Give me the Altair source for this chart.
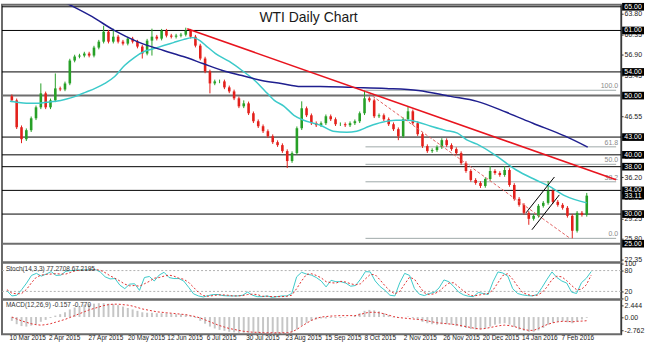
import altair as alt
import pandas as pd

# ------------------------------------------------------------------ data
title_text = "WTI Daily Chart"

# closing prices, one candle per two trading days
closes = [49.20, 44.66, 42.64, 44.16, 46.17, 48.02, 50.38, 48.02, 49.20, 51.22,
          51.05, 52.06, 55.92, 56.60, 56.76, 57.10, 56.76, 58.11, 59.11, 60.79,
          59.11, 59.95, 59.11, 58.78, 59.62, 59.11, 58.28, 57.10, 59.28, 59.95,
          59.62, 60.96, 60.13, 59.95, 60.13, 60.29, 60.96, 59.95, 58.44, 56.26,
          54.08, 52.06, 52.40, 52.40, 51.39, 50.71, 49.54, 48.19, 48.69, 47.02,
          45.67, 44.83, 43.99, 43.15, 42.14, 41.64, 40.63, 38.95, 40.29, 44.49,
          47.86, 46.68, 45.34, 45.00, 45.34, 46.51, 46.01, 45.17, 45.17, 45.00,
          45.34, 45.67, 47.02, 49.54, 49.20, 46.51, 46.68, 46.01, 45.17, 44.33,
          43.15, 46.01, 47.35, 45.34, 43.49, 41.47, 40.63, 40.80, 41.30, 42.48,
          41.64, 40.97, 40.29, 38.61, 37.27, 35.76, 35.25, 34.75, 35.92, 37.27,
          36.93, 36.60, 37.44, 34.91, 32.56, 31.55, 30.21, 29.20, 29.70, 31.39,
          31.89, 33.90, 32.06, 31.55, 31.05, 29.70, 27.18, 30.21, 29.87, 33.11]
first_open = 49.9
spike_high = {6: 52.06, 9: 53.74, 19: 61.8, 21: 61.3, 29: 61.3, 36: 61.47,
              48: 49.2, 60: 49.03, 73: 50.9, 82: 48.19, 89: 42.81, 99: 38.11,
              102: 38.11, 111: 35.59, 119: 33.57}
spike_low = {2: 41.97, 27: 56.26, 29: 56.76, 41: 50.38, 57: 37.77, 80: 42.48,
             97: 34.41, 107: 28.19, 116: 25.9}

cyan_ma_bar = [-0.40, 1.02, 3.04, 5.07, 7.10, 9.13, 11.15, 13.18, 15.21, 17.23,
               19.26, 21.29, 23.32, 25.34, 27.37, 29.40, 31.42, 33.45, 35.48, 37.51,
               38.93, 40.14, 42.17, 45.01, 47.64, 50.28, 52.30, 54.33, 56.36, 58.39,
               60.41, 62.44, 63.86, 66.49, 69.33, 71.36, 73.99, 76.63, 79.47, 82.10,
               84.13, 86.77, 89.61, 92.24, 94.27, 96.29, 100.35, 104.40, 108.46, 111.09,
               114.54, 118.99]
cyan_ma_val = [49.03, 48.86, 48.70, 48.70, 48.86, 49.03, 49.37, 49.87, 50.55, 51.22,
               52.06, 53.23, 55.08, 56.43, 57.44, 57.94, 58.45, 58.95, 59.45, 59.79,
               59.28, 58.45, 57.10, 55.76, 54.24, 52.56, 50.88, 49.20, 48.19, 46.68,
               45.84, 45.34, 45.00, 43.99, 43.82, 43.99, 44.83, 45.50, 45.84, 45.84,
               45.50, 44.83, 44.16, 43.66, 42.48, 41.81, 39.79, 37.44, 35.76, 34.75,
               33.07, 31.89]

blue_ma_bar = [7.1, 11.56, 16.63, 21.29, 25.95, 31.42, 35.48, 39.53, 43.59, 47.64,
               51.70, 55.75, 59.80, 63.86, 70.55, 77.44, 84.13, 90.82, 96.29, 102.37,
               107.85, 114.54, 119.20]
blue_ma_val = [67.35, 65.50, 63.32, 60.97, 59.12, 57.61, 56.60, 55.42, 54.24, 53.40,
               52.56, 52.06, 51.55, 51.55, 51.39, 51.22, 50.88, 49.87, 49.03, 47.18,
               45.34, 43.15, 41.30]

trend_bar = [36.3, 125.08]
trend_val = [61.3, 35.8]

fib_start_bar = 73.2
fib_end_bar = 125.08
fib_names = ["100.0", "61.8", "50.0", "38.2", "0.0"]
fib_vals = [50.9, 41.35, 38.4, 35.45, 25.9]
fib_diag_bar = [72.98, 115.55]
fib_diag_val = [50.9, 25.9]

channel_id = ["upper", "upper", "lower", "lower"]
channel_bar = [106.43, 112.31, 107.65, 113.32]
channel_val = [30.21, 36.26, 27.35, 33.24]

black_levels = [65, 61, 54, 43, 40, 38, 34, 30]
gray_levels = [50, 25]
box_vals = [33.11, 65, 61, 54, 50, 43, 40, 38, 34, 30, 25]

price_ticks = [22.35, 25.80, 29.25, 32.75, 36.20, 39.65, 43.10, 46.55,
               50.00, 53.45, 56.90, 60.35, 63.80]

date_labels = ["10 Mar 2015", "2 Apr 2015", "27 Apr 2015", "20 May 2015",
               "12 Jun 2015", "6 Jul 2015", "30 Jul 2015", "23 Aug 2015",
               "15 Sep 2015", "8 Oct 2015", "2 Nov 2015", "26 Nov 2015",
               "20 Dec 2015", "14 Jan 2016", "7 Feb 2016"]
date_pos = [-0.46, 7.70, 15.86, 24.02, 32.18, 40.34, 48.50, 56.66, 64.82,
            72.98, 81.14, 89.30, 97.46, 105.62, 113.78]

stoch_main = [22, 7, 9, 25, 44, 66, 72, 64, 70, 77,
              66, 67, 78, 80, 81, 82, 82, 83, 83, 76,
              62, 56, 57, 38, 28, 41, 42, 23, 60, 63,
              50, 67, 75, 60, 57, 57, 50, 32, 13, 7,
              4, 8, 11, 11, 8, 7, 7, 7, 9, 18,
              9, 5, 5, 7, 3, 5, 7, 7, 14, 62,
              75, 70, 67, 60, 50, 33, 52, 48, 48, 44,
              35, 37, 55, 77, 76, 50, 34, 23, 9, 7,
              45, 72, 66, 28, 12, 8, 14, 17, 30, 53,
              48, 34, 18, 10, 6, 5, 17, 14, 11, 48,
              76, 73, 64, 28, 14, 10, 8, 7, 11, 32,
              55, 76, 60, 50, 44, 18, 14, 45, 58, 77.27]
stoch_signal = [25, 15, 13, 14, 26, 45, 61, 67, 69, 70,
                71, 70, 70, 75, 80, 81, 82, 82, 83, 81,
                74, 65, 58, 50, 41, 36, 37, 35, 42, 49,
                58, 60, 64, 67, 64, 58, 55, 46, 32, 17,
                8, 6, 8, 10, 10, 9, 7, 7, 8, 11,
                12, 11, 6, 6, 5, 5, 5, 6, 9, 28,
                50, 69, 71, 66, 59, 48, 45, 44, 49, 47,
                42, 39, 42, 56, 69, 68, 53, 36, 22, 13,
                20, 41, 61, 55, 35, 16, 11, 13, 20, 33,
                44, 45, 33, 21, 11, 7, 9, 12, 14, 24,
                45, 66, 71, 55, 35, 17, 11, 8, 9, 17,
                33, 54, 64, 62, 51, 37, 25, 26, 39, 67.22]
stoch_levels = [20, 80]
stoch_ticks = [0, 20, 80, 100]

macd_hist = [-0.8, -1.5, -1.9, -2.0, -1.8, -1.5, -1.0, -0.6, -0.2, 0.3,
             0.6, 1.0, 1.6, 2.0, 2.3, 2.6, 2.7, 2.8, 2.9, 2.9,
             2.8, 2.7, 2.5, 2.2, 1.9, 1.6, 1.3, 1.0, 0.9, 0.9,
             0.8, 0.8, 0.8, 0.7, 0.6, 0.6, 0.5, 0.3, -0.2, -0.8,
             -1.4, -2.0, -2.4, -2.7, -2.9, -3.1, -3.2, -3.3, -3.3, -3.3,
             -3.3, -3.4, -3.4, -3.4, -3.5, -3.5, -3.5, -3.5, -3.2, -2.6,
             -1.8, -1.2, -0.8, -0.5, -0.3, -0.3, -0.2, -0.2, -0.2, -0.1,
             0.0, 0.3, 0.8, 1.3, 1.5, 1.4, 1.2, 0.8, 0.4, -0.1,
             -0.2, 0.0, 0.1, -0.2, -0.6, -1.0, -1.3, -1.5, -1.6, -1.5,
             -1.5, -1.6, -1.9, -2.1, -2.3, -2.5, -2.6, -2.6, -2.4, -2.0,
             -1.6, -1.4, -1.3, -1.6, -2.1, -2.6, -2.9, -3.1, -3.1, -2.8,
             -2.3, -1.6, -1.2, -1.0, -0.9, -1.1, -1.3, -0.9, -0.5, -0.157]
macd_signal = [0.0, -0.4, -0.8, -1.1, -1.4, -1.6, -1.7, -1.6, -1.4, -1.1,
               -0.8, -0.5, -0.1, 0.3, 0.7, 1.1, 1.5, 1.8, 2.1, 2.4,
               2.6, 2.7, 2.7, 2.6, 2.5, 2.3, 2.0, 1.7, 1.5, 1.3,
               1.1, 1.0, 0.9, 0.8, 0.7, 0.6, 0.5, 0.3, 0.1, -0.2,
               -0.6, -1.0, -1.4, -1.8, -2.1, -2.4, -2.6, -2.8, -3.0, -3.1,
               -3.2, -3.2, -3.3, -3.3, -3.3, -3.3, -3.3, -3.3, -3.1, -2.6,
               -1.9, -1.3, -0.7, -0.3, 0.0, 0.1, 0.2, 0.25, 0.3, 0.3,
               0.3, 0.3, 0.5, 0.8, 1.0, 1.0, 0.9, 0.7, 0.4, 0.1,
               -0.1, -0.2, -0.3, -0.4, -0.5, -0.6, -0.8, -1.0, -1.2, -1.3,
               -1.4, -1.5, -1.6, -1.8, -2.0, -2.2, -2.4, -2.5, -2.4, -2.2,
               -2.0, -1.8, -1.7, -1.8, -2.0, -2.3, -2.6, -2.8, -2.8, -2.4,
               -1.9, -1.5, -1.2, -1.0, -0.9, -0.9, -1.0, -0.9, -0.85, -0.77]
macd_ticks = [2.444, 0, -2.762]

stoch_caption = "Stoch(14,3,3) 77.2708 67.2195"
macd_caption = "MACD(12,26,9) -0.157 -0.770"

# ------------------------------------------------------------------ tables
n = len(closes)
opens = [first_open] + closes[:-1]
rows = []
for i in range(n):
    o, c = opens[i], closes[i]
    rows.append(dict(bar=i, open=o, close=c,
                     high=spike_high.get(i, max(o, c) + 0.3),
                     low=spike_low.get(i, min(o, c) - 0.3),
                     dir="up" if c >= o else "down"))
candles = pd.DataFrame(rows)
ind = pd.DataFrame({"bar": list(range(n)), "k": stoch_main, "d": stoch_signal,
                    "h": macd_hist, "s": macd_signal, "z": [0] * n})

FONT = "Liberation Sans"
W = 622
xs = alt.Scale(domain=[-1.01, 125.08], nice=False, zero=False)
ys = alt.Scale(domain=[21.81, 65.336], nice=False, zero=False)
X = lambda f: alt.X(f, scale=xs, axis=None)

axis_common = dict(orient="right", labelFontSize=7, labelColor="#222", labelFont=FONT,
                   tickSize=2, tickColor="#333", domainColor="#333", labelPadding=1,
                   grid=False, title=None, labelOverlap=False)
price_axis = alt.Axis(values=price_ticks, format=".2f", **axis_common)
Yp = lambda f: alt.Y(f, scale=ys, axis=price_axis, title=None)

lev_black = alt.Chart(pd.DataFrame({"p": black_levels})).mark_rule(
    color="black", strokeWidth=1).encode(y=Yp("p:Q"))
lev_gray = alt.Chart(pd.DataFrame({"p": gray_levels})).mark_rule(
    color="#6e6e6e", strokeWidth=2).encode(y=Yp("p:Q"))

fib_df = pd.DataFrame({"p": fib_vals, "name": fib_names,
                       "b0": [fib_start_bar] * len(fib_vals), "b1": [fib_end_bar] * len(fib_vals)})
fib_lines = alt.Chart(fib_df).mark_rule(color="#9ea8a8", strokeWidth=1).encode(
    x=X("b0:Q"), x2="b1:Q", y=Yp("p:Q"))
fib_text = alt.Chart(fib_df).mark_text(align="right", baseline="bottom", dy=-1, fontSize=7,
                                       font=FONT, color="#8a8a8a").encode(
    x=alt.value(619), y=Yp("p:Q"), text="name:N")

dir_color = alt.Color("dir:N", scale=alt.Scale(domain=["up", "down"], range=["#27a027", "#e3201b"]),
                      legend=None)
wicks = alt.Chart(candles).mark_rule(strokeWidth=1).encode(
    x=X("bar:Q"), y=Yp("low:Q"), y2="high:Q", color=dir_color)
bodies = alt.Chart(candles).mark_bar(size=2.6).encode(
    x=X("bar:Q"), y=Yp("open:Q"), y2="close:Q", color=dir_color)

cyan = alt.Chart(pd.DataFrame({"b": cyan_ma_bar, "p": cyan_ma_val})).mark_line(
    color="#3ccaca", strokeWidth=1.5, interpolate="monotone", clip=True).encode(x=X("b:Q"), y=Yp("p:Q"))
blue = alt.Chart(pd.DataFrame({"b": blue_ma_bar, "p": blue_ma_val})).mark_line(
    color="#1f1f8f", strokeWidth=1.5, interpolate="monotone", clip=True).encode(x=X("b:Q"), y=Yp("p:Q"))
trend = alt.Chart(pd.DataFrame({"b": trend_bar, "p": trend_val})).mark_line(
    color="#e8141e", strokeWidth=1.5, clip=True).encode(x=X("b:Q"), y=Yp("p:Q"))
fib_diag = alt.Chart(pd.DataFrame({"b": fib_diag_bar, "p": fib_diag_val})).mark_line(
    color="#e06060", strokeWidth=1, strokeDash=[3, 2]).encode(x=X("b:Q"), y=Yp("p:Q"))
channel = alt.Chart(pd.DataFrame({"id": channel_id, "b": channel_bar, "p": channel_val})).mark_line(
    color="black", strokeWidth=1).encode(x=X("b:Q"), y=Yp("p:Q"), detail="id:N")

title = alt.Chart(pd.DataFrame({"t": [title_text]})).mark_text(
    fontSize=14, font=FONT, color="#1a1a1a", baseline="alphabetic", align="center").encode(
    x=alt.value(308), y=alt.value(17), text="t:N")

box_df = pd.DataFrame({"p": box_vals, "lab": [f"{v:.2f}" for v in box_vals]})
boxes = alt.Chart(box_df).mark_point(shape="M-1,-0.35L1,-0.35L1,0.35L-1,0.35Z", filled=True,
                                     color="black", opacity=1, size=484).encode(
    x=alt.value(634), y=Yp("p:Q"))
box_text = alt.Chart(box_df).mark_text(color="white", fontSize=7, font=FONT, align="center",
                                       baseline="middle").encode(
    x=alt.value(634), y=Yp("p:Q"), text="lab:N")

main = alt.layer(lev_black, lev_gray, fib_lines, fib_text, wicks, bodies, cyan, blue,
                 trend, fib_diag, channel, title, boxes, box_text).properties(width=W, height=259)

# ------------------------------------------------------------------ stochastic
ss = alt.Scale(domain=[-3, 103], nice=False, zero=False)
stoch_axis = alt.Axis(values=stoch_ticks, **axis_common)
Ys = lambda f: alt.Y(f, scale=ss, axis=stoch_axis, title=None)
st_lev = alt.Chart(pd.DataFrame({"v": stoch_levels})).mark_rule(
    color="#b0b0b0", strokeDash=[2, 2], strokeWidth=1).encode(y=Ys("v:Q"))
st_k = alt.Chart(ind).mark_line(color="#3ccaca", strokeWidth=1).encode(
    x=X("bar:Q"), y=Ys("k:Q"))
st_d = alt.Chart(ind).mark_line(color="#e03030", strokeWidth=1, strokeDash=[2, 2]).encode(
    x=X("bar:Q"), y=Ys("d:Q"))
st_cap = alt.Chart(pd.DataFrame({"t": [stoch_caption]})).mark_text(
    align="left", baseline="top", fontSize=6.5, font=FONT, color="#333").encode(
    x=alt.value(4), y=alt.value(3), text="t:N")
stoch = alt.layer(st_lev, st_k, st_d, st_cap).properties(width=W, height=37)

# ------------------------------------------------------------------ MACD
ms = alt.Scale(domain=[-3.61, 3.70], nice=False, zero=False)
macd_axis = alt.Axis(values=macd_ticks,
                     labelExpr="datum.value == 0 ? '0.00' : (datum.value < 0 ? '-' + format(-datum.value, '.3f') : format(datum.value, '.3f'))",
                     **axis_common)
Ym = lambda f: alt.Y(f, scale=ms, axis=macd_axis, title=None)
m_hist = alt.Chart(ind).mark_bar(size=2, color="#c6c6c6").encode(
    x=X("bar:Q"), y=Ym("h:Q"), y2="z:Q")
m_sig = alt.Chart(ind).mark_line(color="#e03030", strokeWidth=1, strokeDash=[2, 2]).encode(
    x=X("bar:Q"), y=Ym("s:Q"))
m_cap = alt.Chart(pd.DataFrame({"t": [macd_caption]})).mark_text(
    align="left", baseline="top", fontSize=6.5, font=FONT, color="#333").encode(
    x=alt.value(4), y=alt.value(3), text="t:N")
dates = alt.Chart(pd.DataFrame({"b": date_pos, "t": date_labels})).mark_text(
    align="left", baseline="top", fontSize=6.5, font=FONT, color="#222").encode(
    x=X("b:Q"), y=alt.value(36), text="t:N")
macd = alt.layer(m_hist, m_sig, m_cap, dates).properties(width=W, height=35)

chart = alt.vconcat(main, stoch, macd, spacing=0, bounds="flush").properties(
    padding=0, background="white").configure_view(stroke="#6a6a6a", strokeWidth=2)

chart.save("out.html", embed_options={"renderer": "svg", "actions": False})
